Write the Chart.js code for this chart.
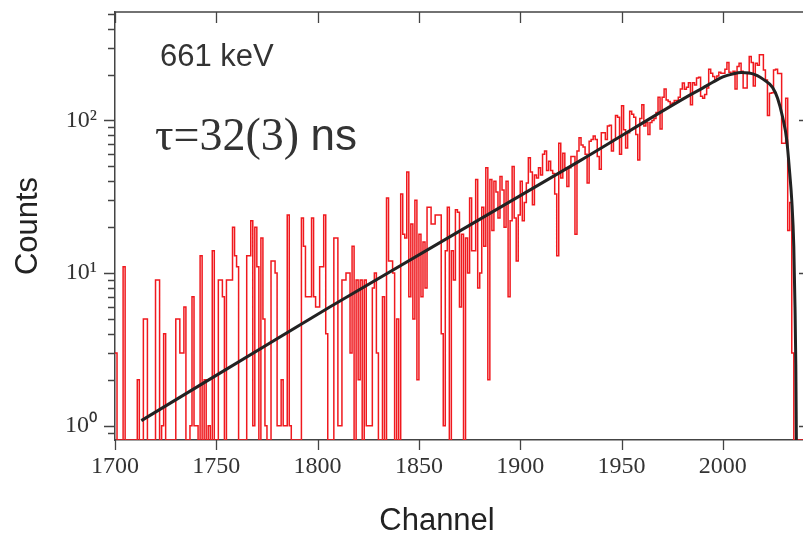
<!DOCTYPE html>
<html><head><meta charset="utf-8">
<script src="https://cdn.jsdelivr.net/npm/chart.js@4.4.0/dist/chart.umd.min.js"></script>
<style>html,body{margin:0;padding:0;background:#fff;overflow:hidden;width:803px;height:534px}canvas{display:block}</style>
</head><body><canvas id="c" width="812" height="534"></canvas>
<script>
// ---- data ----
const START_CHANNEL = 1700; // channel of the first count below, one count per channel
const counts = [
  3,0,0,0,11,0,0,0,0,0,          // 1700
  0,2,0,0,5,5,0,0,0,0,           // 1710
  9,9,0,1,4,0,0,0,0,0,           // 1720
  5,5,3,3,6,0,0,1,7,1,           // 1730
  1,0,13,0,2,0,1,0,14,0,         // 1740
  0,9,9,7,0,9,9,9,20,13,         // 1750
  11,0,0,0,0,13,13,22,1,20,      // 1760
  11,0,17,5,1,0,0,12,12,10,      // 1770
  1,1,2,1,1,24,1,0,0,0,          // 1780
  0,0,23,15,7,7,7,23,7,6,        // 1790
  6,11,11,24,4,0,0,0,17,17,      // 1800
  1,1,9,9,10,10,3,15,0,9,        // 1810
  2,9,0,9,1,1,1,8,10,3,          // 1820
  0,0,7,0,31,12,12,10,0,5,       // 1830
  0,33,18,17,46,7,21,5,30,2,     // 1840
  18,7,16,8,27,27,21,21,24,24,   // 1850
  24,4,1,14,27,0,14,9,26,25,     // 1860
  6,18,0,17,10,31,14,14,41,8,    // 1870
  10,27,15,49,2,41,19,40,34,23,  // 1880
  43,35,20,40,7,22,50,23,12,24,  // 1890
  40,22,29,39,57,46,28,44,42,49, // 1900
  44,60,63,47,54,47,45,33,13,71, // 1910
  42,61,49,37,49,58,58,18,63,77, // 1920
  69,67,60,39,73,75,79,75,58,48, // 1930
  83,83,75,92,93,63,75,108,105,60,       // 1940
  125,87,66,83,115,110,105,81,55,103,    // 1950
  127,92,97,81,97,100,103,113,142,88,    // 1960
  142,161,136,133,128,130,135,135,142,161, // 1970
  176,160,165,177,127,177,171,190,192,144, // 1980
  140,148,163,217,204,194,184,196,207,204, // 1990
  204,217,240,207,200,210,161,226,237,210, // 2000
  163,163,203,263,240,168,237,230,270,270, // 2010
  214,184,108,151,152,214,217,203,203,71,  // 2020
  71,140,19,29,3,0                          // 2030
];
const fitChannels = [1713, 1806, 1930, 1983, 1990, 1995, 2000, 2005, 2009, 2013, 2017, 2020, 2024.5, 2027, 2029.5, 2031.5, 2033, 2034, 2035, 2035.6, 2036, 2036.3];
const fitCounts   = [1.08, 6.0, 55, 145, 163, 178, 193, 202, 206, 205, 197, 186, 165, 140, 105, 75, 45, 30, 15, 6, 2.5, 0.7];

const xTickValues = [1700, 1750, 1800, 1850, 1900, 1950, 2000];
const yTickValues = [1, 10, 100];
const yTickLabels = ['10\u2070', '10\u00B9', '10\u00B2'];
const yMinorTickValues = [0.9, 2, 3, 4, 5, 6, 7, 8, 9, 20, 30, 40, 50, 60, 70, 80, 90, 200, 300, 400, 500];
const X_MIN = 1700, X_MAX = 2043, Y_MIN = 0.806, Y_MAX = 514;

const energyLabel = '661 keV';
const tauLabel = '\u03C4=32(3)';
const tauUnit = 'ns';
const xTitle = 'Channel';
const yTitle = 'Counts';

// ---- build datasets ----
const histPoints = counts.map((c, i) => ({ x: START_CHANNEL + i, y: c > 0 ? c : Y_MIN }));
histPoints.push({ x: X_MAX, y: Y_MIN });
const fitPoints = fitChannels.map((ch, i) => ({ x: ch, y: fitCounts[i] }));

const AXIS = '#444';
const TEXT = '#333';

const framePlugin = {
  id: 'frame',
  afterDatasetsDraw(chart) {
    const { ctx, chartArea: a } = chart;
    const xs = chart.scales.x, ys = chart.scales.y;
    ctx.save();
    ctx.strokeStyle = AXIS;
    ctx.lineWidth = 1.5;
    ctx.beginPath();
    ctx.moveTo(a.left, a.top); ctx.lineTo(a.right, a.top); ctx.lineTo(a.right, a.bottom);
    ctx.stroke();
    ctx.lineWidth = 1.3;
    ctx.beginPath();
    xTickValues.forEach(v => {
      const px = Math.round(xs.getPixelForValue(v)) + 0.5;
      ctx.moveTo(px, a.bottom); ctx.lineTo(px, a.bottom + 10);
      ctx.moveTo(px, a.top); ctx.lineTo(px, a.top + 11);
    });
    yTickValues.forEach(v => {
      const py = Math.round(ys.getPixelForValue(v)) + 0.5;
      ctx.moveTo(a.left, py); ctx.lineTo(a.left - 11, py);
      ctx.moveTo(a.right, py); ctx.lineTo(a.right - 11, py);
    });
    yMinorTickValues.forEach(v => {
      const py = Math.round(ys.getPixelForValue(v)) + 0.5;
      ctx.moveTo(a.left, py); ctx.lineTo(a.left - 7, py);
      ctx.moveTo(a.right, py); ctx.lineTo(a.right - 7, py);
    });
    ctx.stroke();

    ctx.fillStyle = TEXT;
    ctx.textBaseline = 'alphabetic';
    ctx.textAlign = 'left';
    ctx.font = '31px "Liberation Sans", Arial, sans-serif';
    ctx.fillText(energyLabel, a.left + 45, 65.5);
    ctx.font = '46px "Liberation Serif", "Times New Roman", serif';
    ctx.fillText(tauLabel, a.left + 40, 150);
    const w = ctx.measureText(tauLabel + ' ').width;
    ctx.font = '44px "Liberation Sans", Arial, sans-serif';
    ctx.fillText(tauUnit, a.left + 40 + w, 150);

    ctx.fillStyle = '#222';
    ctx.font = '31px "Liberation Sans", Arial, sans-serif';
    ctx.textAlign = 'center';
    ctx.textBaseline = 'middle';
    ctx.fillText(xTitle, 437, 521);
    ctx.translate(28, (a.top + a.bottom) / 2);
    ctx.rotate(-Math.PI / 2);
    ctx.fillText(yTitle, 0, 0);
    ctx.restore();
  }
};

new Chart(document.getElementById('c'), {
  type: 'line',
  data: {
    datasets: [
      {
        data: fitPoints,
        borderColor: '#222',
        borderWidth: 3,
        pointRadius: 0,
        cubicInterpolationMode: 'monotone',
        fill: false
      },
      {
        data: histPoints,
        borderColor: 'rgb(240,25,30)',
        borderWidth: 1.5,
        pointRadius: 0,
        stepped: 'before',
        fill: false
      }
    ]
  },
  options: {
    responsive: false,
    devicePixelRatio: 1,
    animation: false,
    events: [],
    layout: { padding: { left: 0, right: 2, top: 12, bottom: 0 } },
    plugins: { legend: { display: false }, tooltip: { enabled: false } },
    scales: {
      x: {
        type: 'linear',
        position: 'bottom',
        min: X_MIN, max: X_MAX,
        afterFit(s) { s.height = 94; s.paddingLeft = 0; s.paddingRight = 0; },
        afterBuildTicks(s) { s.ticks = xTickValues.map(v => ({ value: v })); },
        grid: { display: false, drawTicks: false },
        border: { display: true, color: AXIS, width: 1.5 },
        ticks: {
          padding: 12,
          autoSkip: false,
          maxRotation: 0,
          color: TEXT,
          font: { family: '"Liberation Serif", "Times New Roman", serif', size: 24 },
          callback: v => String(v)
        }
      },
      y: {
        type: 'logarithmic',
        position: 'left',
        min: Y_MIN, max: Y_MAX,
        afterFit(s) { s.width = 115; s.paddingTop = 0; s.paddingBottom = 0; },
        afterBuildTicks(s) { s.ticks = yTickValues.map(v => ({ value: v })); },
        grid: { display: false, drawTicks: false },
        border: { display: true, color: AXIS, width: 1.5 },
        ticks: {
          padding: 18,
          autoSkip: false,
          color: TEXT,
          font: { family: '"Liberation Serif", "Times New Roman", serif', size: 24 },
          callback: v => { const k = yTickValues.indexOf(v); return k >= 0 ? yTickLabels[k] : ''; }
        }
      }
    }
  },
  plugins: [framePlugin]
});
</script>
</body></html>
